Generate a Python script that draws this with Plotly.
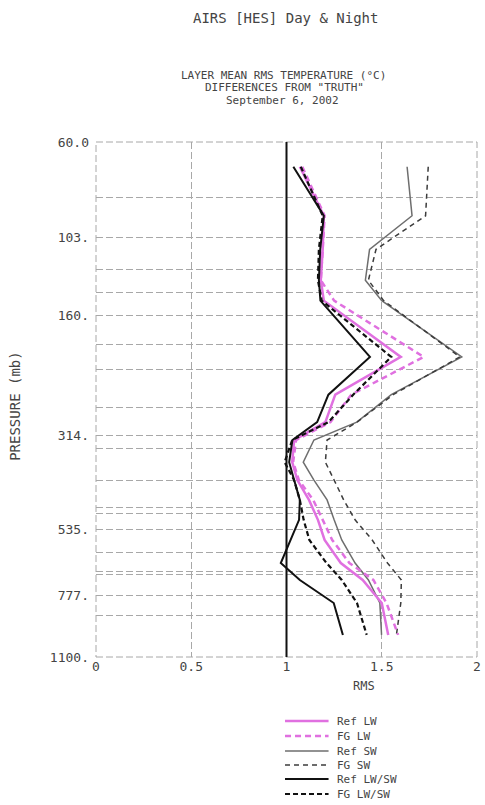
import numpy as np
import plotly.graph_objects as go

# ---- data ----
pressure = [69, 91, 110, 131, 147, 202, 250, 292, 323, 366, 405, 453, 507, 568, 647, 712, 811, 971]

ref_lw    = [1.07, 1.196, 1.19, 1.18, 1.196, 1.60, 1.256, 1.204, 1.04, 1.03, 1.057, 1.118, 1.165, 1.20, 1.285, 1.40, 1.50, 1.534]
fg_lw     = [1.083, 1.20, 1.19, 1.18, 1.25, 1.72, 1.34, 1.23, 1.05, 1.035, 1.065, 1.14, 1.19, 1.24, 1.33, 1.456, 1.525, 1.586]
ref_sw    = [1.633, 1.659, 1.436, 1.414, 1.50, 1.92, 1.55, 1.369, 1.144, 1.088, 1.144, 1.213, 1.25, 1.29, 1.36, 1.43, 1.49, 1.499]
fg_sw     = [1.744, 1.73, 1.47, 1.43, 1.51, 1.91, 1.56, 1.37, 1.213, 1.204, 1.25, 1.30, 1.36, 1.45, 1.53, 1.603, 1.60, 1.577]
ref_lwsw  = [1.036, 1.196, 1.177, 1.17, 1.178, 1.438, 1.22, 1.161, 1.031, 1.014, 1.04, 1.07, 1.066, 1.02, 0.97, 1.07, 1.248, 1.296]
fg_lwsw   = [1.075, 1.19, 1.17, 1.165, 1.185, 1.55, 1.35, 1.22, 1.03, 0.99, 1.04, 1.07, 1.09, 1.12, 1.21, 1.29, 1.37, 1.421]

y_tickvals = [60, 103, 160, 314, 535, 777, 1100]
y_ticktext = ["60.0", "103.", "160.", "314.", "535.", "777.", "1100."]
x_tickvals = [0, 0.5, 1, 1.5, 2]
x_ticktext = ["0", "0.5", "1", "1.5", "2"]
grid_levels = [82, 123, 140, 188, 217, 269, 338, 405, 474, 490, 611, 677, 692, 872]

series = [
    ("Ref SW", ref_sw, "#6e6e6e", 1.5, "solid"),
    ("FG SW", fg_sw, "#3c3c3c", 1.5, "5px,4px"),
    ("Ref LW", ref_lw, "#e070e0", 2.5, "solid"),
    ("FG LW", fg_lw, "#e070e0", 2.5, "6px,4px"),
    ("Ref LW/SW", ref_lwsw, "#111111", 2.0, "solid"),
    ("FG LW/SW", fg_lwsw, "#111111", 2.2, "5px,3px"),
]
legend_order = ["Ref LW", "FG LW", "Ref SW", "FG SW", "Ref LW/SW", "FG LW/SW"]

FONT = "DejaVu Sans Mono"
TXT = "#444444"
GRID = "#a8a8a8"

W, H = 485, 805
L, R, T, B = 96, 4, 142, 148
PW, PH = W - L - R, H - T - B

def px2paper(xp, yp):
    return (xp - L) / PW, (H - B - yp) / PH

fig = go.Figure()
for name, vals, col, lw, dash in series:
    fig.add_trace(go.Scatter(x=vals, y=pressure, mode="lines", name=name,
                             line=dict(color=col, width=lw, dash=dash),
                             showlegend=False))

# dashed frame around the plot area
fig.add_shape(type="rect", xref="paper", yref="paper", x0=0, x1=1, y0=0, y1=1,
              line=dict(color=GRID, width=1, dash="7px,3px"), layer="below")
# vertical reference line at RMS = 1
fig.add_shape(type="line", xref="x", yref="paper", x0=1, x1=1, y0=0, y1=1,
              line=dict(color="#111111", width=2))

annotations = []
def txt(s, xp, yp, size=12, angle=0, xanchor="center"):
    xa, ya = px2paper(xp, yp)
    annotations.append(dict(text=s, x=xa, y=ya, xref="paper", yref="paper",
                            showarrow=False, textangle=angle, xanchor=xanchor,
                            yanchor="middle", font=dict(family=FONT, size=size, color=TXT)))

txt("AIRS [HES] Day &amp; Night", 287, 18, size=14)
txt("LAYER MEAN RMS TEMPERATURE (°C)", 285, 75, size=11)
txt("DIFFERENCES FROM \"TRUTH\"", 286, 88, size=11)
txt("September 6, 2002", 284, 101, size=11)
txt("PRESSURE (mb)", 14, 406, size=14, angle=-90)
txt("RMS", 367, 686, size=12)

# legend key (drawn manually to match the compact spacing)
style = {n: (c, w, d) for n, _, c, w, d in series}
leg_y = [721, 736, 751, 765, 779, 794]
for name, yp in zip(legend_order, leg_y):
    c, w, d = style[name]
    x0, y0 = px2paper(287, yp)
    x1, _ = px2paper(331, yp)
    fig.add_shape(type="line", xref="paper", yref="paper", x0=x0, x1=x1, y0=y0, y1=y0,
                  line=dict(color=c, width=w, dash=d))
    txt(name, 338, yp, size=11, xanchor="left")

fig.update_layout(
    width=W, height=H,
    margin=dict(l=L, r=R, t=T, b=B),
    paper_bgcolor="white", plot_bgcolor="white",
    showlegend=False,
    annotations=annotations,
    xaxis=dict(range=[0, 2], tickmode="array", tickvals=x_tickvals, ticktext=x_ticktext,
               showgrid=True, gridcolor=GRID, griddash="7px,3px", gridwidth=1,
               zeroline=False, showline=False, ticks="",
               tickfont=dict(family=FONT, size=13, color=TXT)),
    yaxis=dict(type="log", range=[np.log10(1100), np.log10(60)],
               tickmode="array", tickvals=y_tickvals, ticktext=y_ticktext,
               showgrid=True, gridcolor=GRID, griddash="7px,3px", gridwidth=1,
               zeroline=False, showline=False, ticks="", ticklabelstandoff=6,
               tickfont=dict(family=FONT, size=13, color=TXT),
               minor=dict(tickmode="array", tickvals=grid_levels, showgrid=True,
                          gridcolor=GRID, griddash="7px,3px", gridwidth=1)),
)

fig.write_html("out.html")
